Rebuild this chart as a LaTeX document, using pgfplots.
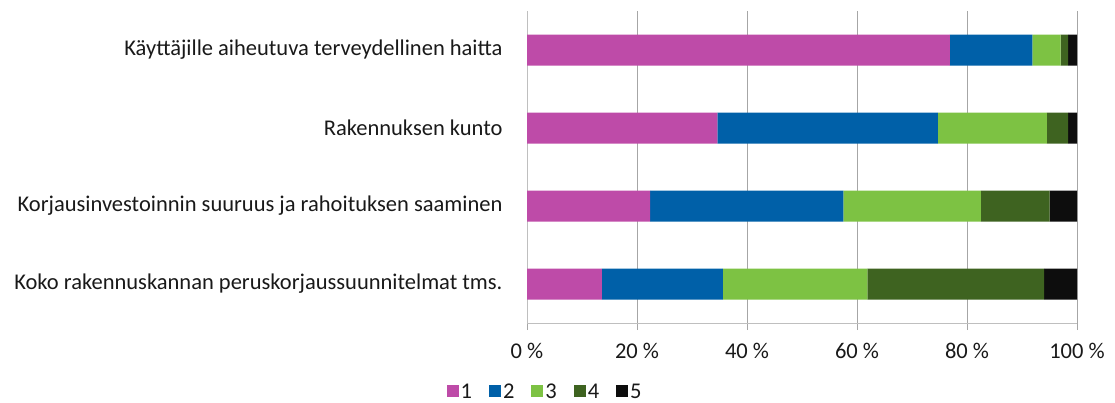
\documentclass[border=0pt]{standalone}
\usepackage{pgfplots}
\pgfplotsset{compat=1.18}
\usepackage{fontspec}
\setmainfont{Carlito}
\definecolor{c1}{HTML}{BE4BA8}
\definecolor{c2}{HTML}{0060A8}
\definecolor{c3}{HTML}{7DC243}
\definecolor{c4}{HTML}{3E6320}
\definecolor{c5}{HTML}{0D0D0D}
\definecolor{gridc}{HTML}{A6A6A6}
\definecolor{axc}{HTML}{BFBFBF}
\begin{document}
\begin{tikzpicture}
\useasboundingbox (0,0) rectangle (1115bp,403bp);
\begin{axis}[
  at={(527bp,80bp)}, anchor=south west,
  scale only axis, width=550bp, height=312bp,
  xbar stacked, bar width=31bp,
  xmin=0, xmax=100, ymin=-0.5, ymax=3.5,
  y dir=reverse,
  xtick={0,20,40,60,80,100},
  xticklabels={0 \%,20 \%,40 \%,60 \%,80 \%,100 \%},
  ytick={0,1,2,3},
  yticklabels={Käyttäjille aiheutuva terveydellinen haitta, Rakennuksen kunto, Korjausinvestoinnin suuruus ja rahoituksen saaminen, Koko rakennuskannan peruskorjaussuunnitelmat tms.},
  axis lines*=left,
  axis line style={draw=axc, line width=0.8bp},
  xmajorgrids, grid style={draw=gridc, line width=0.8bp},
  tick align=outside, major tick length=7bp,
  xtick style={draw=gridc, line width=0.8bp},
  ytick style={draw=none},
  tick label style={font=\fontsize{22.5bp}{26bp}\selectfont, text=black!90},
  yticklabel style={xshift=-14bp},
  xticklabel style={yshift=-10bp},
  legend columns=5,
  legend style={at={(0.033,-0.222)}, anchor=center, draw=none, fill=none,
    font=\fontsize{22.5bp}{26bp}\selectfont, text=black!90, inner sep=0pt,
    /tikz/every even column/.append style={column sep=15bp}},
  legend cell align=left,
  legend image code/.code={\fill[#1] (0bp,-5bp) rectangle (12bp,7bp);},
]
\addplot[fill=c1, draw=none] coordinates {(76.9,0) (34.6,1) (22.4,2) (13.6,3)};
\addplot[fill=c2, draw=none] coordinates {(15.0,0) (40.1,1) (35.1,2) (22.0,3)};
\addplot[fill=c3, draw=none] coordinates {(5.1,0) (19.8,1) (25.0,2) (26.3,3)};
\addplot[fill=c4, draw=none] coordinates {(1.4,0) (3.9,1) (12.5,2) (32.1,3)};
\addplot[fill=c5, draw=none] coordinates {(1.6,0) (1.6,1) (5.0,2) (6.0,3)};
\legend{1,2,3,4,5}
\end{axis}
\end{tikzpicture}
\end{document}
